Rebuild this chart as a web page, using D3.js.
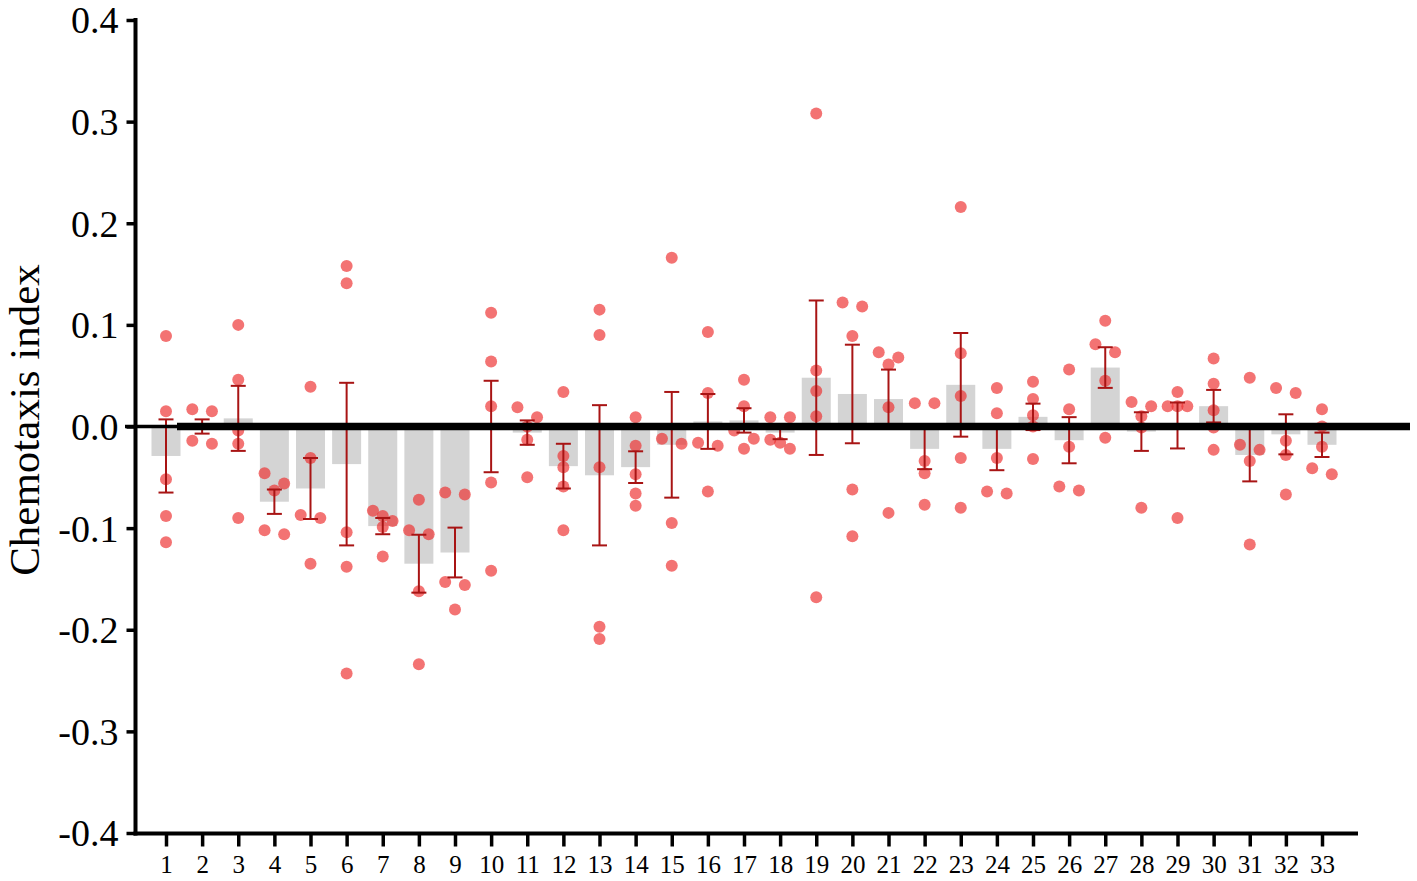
<!DOCTYPE html>
<html>
<head>
<meta charset="utf-8">
<script src="https://cdn.jsdelivr.net/npm/d3@7"></script>
<style>
  html, body { margin: 0; padding: 0; background: #ffffff; }
  svg { display: block; }
  text { font-family: "Liberation Serif", "Times New Roman", serif; fill: #000; }
</style>
</head>
<body>
<svg id="chart" width="1417" height="881"></svg>
<script>
// ---------------- data ----------------
const categories = d3.range(1, 34).map(String);

const barMeans = [
  -0.029, 0.000, 0.008, -0.074, -0.061, -0.037, -0.098, -0.135, -0.124, 0.000,
  -0.006, -0.039, -0.048, -0.040, -0.018, 0.005, 0.006, -0.006, 0.048, 0.032,
  0.027, -0.022, 0.041, -0.022, 0.0095, -0.0135, 0.058, -0.005, 0.001, 0.020,
  -0.028, -0.0077, -0.018
];

const barSEM = [
  0.036, 0.007, 0.032, 0.012, 0.030, 0.080, 0.008, 0.0285, 0.0245, 0.045,
  0.012, 0.022, 0.069, 0.0156, 0.052, 0.027, 0.012, 0.0065, 0.076, 0.0485,
  0.029, 0.020, 0.051, 0.021, 0.013, 0.0227, 0.020, 0.019, 0.0226, 0.016,
  0.026, 0.0197, 0.012
];

const replicateValues = [
  [0.089, 0.015, -0.052, -0.088, -0.114],
  [0.017, 0.015, -0.017, -0.014],
  [0.100, 0.046, -0.004, -0.017, -0.090],
  [-0.046, -0.056, -0.063, -0.102, -0.106],
  [0.039, -0.031, -0.087, -0.090, -0.135],
  [0.158, 0.141, -0.104, -0.138, -0.243],
  [-0.083, -0.088, -0.093, -0.099, -0.128],
  [-0.072, -0.102, -0.106, -0.162, -0.234],
  [-0.065, -0.067, -0.153, -0.156, -0.180],
  [0.112, 0.064, 0.020, -0.055, -0.142],
  [0.019, 0.009, 0.000, -0.013, -0.050],
  [0.034, -0.029, -0.040, -0.059, -0.102],
  [0.115, 0.090, -0.040, -0.197, -0.209],
  [0.009, -0.019, -0.047, -0.066, -0.078],
  [0.166, -0.012, -0.017, -0.095, -0.137],
  [0.093, 0.033, -0.016, -0.019, -0.064],
  [0.046, 0.020, -0.004, -0.012, -0.022],
  [0.009, 0.009, -0.013, -0.016, -0.022],
  [0.308, 0.055, 0.035, 0.010, -0.168],
  [0.122, 0.118, 0.089, -0.062, -0.108],
  [0.073, 0.068, 0.061, 0.019, -0.085],
  [0.023, 0.023, -0.034, -0.046, -0.077],
  [0.216, 0.072, 0.030, -0.031, -0.080],
  [0.038, 0.013, -0.031, -0.064, -0.066],
  [0.044, 0.027, 0.011, 0.000, -0.032],
  [0.056, 0.017, -0.020, -0.059, -0.063],
  [0.104, 0.081, 0.073, 0.045, -0.011],
  [0.024, 0.020, 0.010, -0.001, -0.080],
  [0.034, 0.020, 0.020, 0.020, -0.090],
  [0.067, 0.042, 0.016, -0.001, -0.023],
  [0.048, -0.018, -0.023, -0.034, -0.116],
  [0.038, 0.033, -0.014, -0.028, -0.067],
  [0.017, 0.000, -0.020, -0.041, -0.047]
];

const yTickValues = [-0.4, -0.3, -0.2, -0.1, 0.0, 0.1, 0.2, 0.3, 0.4];
const yTitle = "Chemotaxis index";

// ---------------- layout ----------------
const svg = d3.select("#chart");
const axisX = 135.5;
const axisBottom = 833.5;

const y = d3.scaleLinear().domain([-0.4, 0.4]).range([833, 20]);
const x = d3.scalePoint().domain(categories).range([166, 1322]);

const barW = 29;
const dotR = 6;
const jitter = 9.8;
const rowH = 10.5;

// bars
svg.append("g").selectAll("rect")
  .data(barMeans)
  .join("rect")
  .attr("x", (d, i) => x(categories[i]) - barW / 2)
  .attr("width", barW)
  .attr("y", d => Math.min(y(d), y(0)))
  .attr("height", d => Math.abs(y(d) - y(0)))
  .attr("fill", "#d4d4d4");

// scatter points with row-based horizontal spreading
const pts = [];
replicateValues.forEach((vals, ci) => {
  const cx = x(categories[ci]);
  const sorted = vals.map(v => ({ v, py: y(v) })).sort((a, b) => a.py - b.py);
  let rows = [];
  sorted.forEach(p => {
    const last = rows[rows.length - 1];
    if (last && p.py - last[0].py < rowH) last.push(p);
    else rows.push([p]);
  });
  rows.forEach(row => {
    const n = row.length;
    const offs = n === 2 ? [-jitter, jitter] : d3.range(n).map(i => (i - (n - 1) / 2) * jitter);
    row.forEach((p, i) => pts.push({ x: cx + offs[i], v: p.v }));
  });
});

svg.append("g").selectAll("circle")
  .data(pts)
  .join("circle")
  .attr("cx", d => d.x)
  .attr("cy", d => y(d.v))
  .attr("r", dotR)
  .attr("fill", "#ee3030")
  .attr("fill-opacity", 0.68);

// error bars (mean ± SEM)
const errColor = "#a81414";
const eg = svg.append("g").attr("stroke", errColor).attr("stroke-width", 2).attr("fill", "none");
barMeans.forEach((m, i) => {
  const cx = x(categories[i]);
  const top = y(m + barSEM[i]);
  const bot = y(m - barSEM[i]);
  eg.append("line").attr("x1", cx).attr("x2", cx).attr("y1", top).attr("y2", bot);
  eg.append("line").attr("x1", cx - 7.5).attr("x2", cx + 7.5).attr("y1", top).attr("y2", top);
  eg.append("line").attr("x1", cx - 7.5).attr("x2", cx + 7.5).attr("y1", bot).attr("y2", bot);
});

// zero line (thin near axis, thick afterwards)
svg.append("line")
  .attr("x1", 125).attr("x2", 180)
  .attr("y1", y(0)).attr("y2", y(0))
  .attr("stroke", "#000").attr("stroke-width", 3.5);
svg.append("line")
  .attr("x1", 177).attr("x2", 1410)
  .attr("y1", y(0)).attr("y2", y(0))
  .attr("stroke", "#000").attr("stroke-width", 7.5);

// y axis
const yAxis = d3.axisLeft(y)
  .tickValues(yTickValues)
  .tickFormat(d3.format(".1f"))
  .tickSize(9)
  .tickPadding(8);
const gy = svg.append("g").attr("transform", `translate(${axisX},0)`).call(yAxis);
gy.select(".domain").remove();
gy.selectAll(".tick line").attr("stroke", "#000").attr("stroke-width", 3.5);
gy.selectAll(".tick text")
  .attr("font-size", 38)
  .attr("font-family", "'Liberation Serif', 'Times New Roman', serif")
  .attr("dy", "0.34em")
  .text(d => d3.format(".1f")(d).replace("−", "-"));
svg.append("line")
  .attr("x1", axisX).attr("x2", axisX)
  .attr("y1", 18).attr("y2", axisBottom + 2)
  .attr("stroke", "#000").attr("stroke-width", 4);

// x axis
const xAxis = d3.axisBottom(x).tickSize(13).tickPadding(9);
const gx = svg.append("g").attr("transform", `translate(0,${axisBottom})`).call(xAxis);
gx.select(".domain").remove();
gx.selectAll(".tick line").attr("stroke", "#000").attr("stroke-width", 3.5);
gx.selectAll(".tick text")
  .attr("font-size", 25)
  .attr("font-family", "'Liberation Serif', 'Times New Roman', serif");
svg.append("line")
  .attr("x1", axisX - 2).attr("x2", 1358)
  .attr("y1", axisBottom).attr("y2", axisBottom)
  .attr("stroke", "#000").attr("stroke-width", 4);

// y title
svg.append("text")
  .attr("transform", "translate(39,420) rotate(-90)")
  .attr("text-anchor", "middle")
  .attr("font-size", 43)
  .text(yTitle);
</script>
</body>
</html>
